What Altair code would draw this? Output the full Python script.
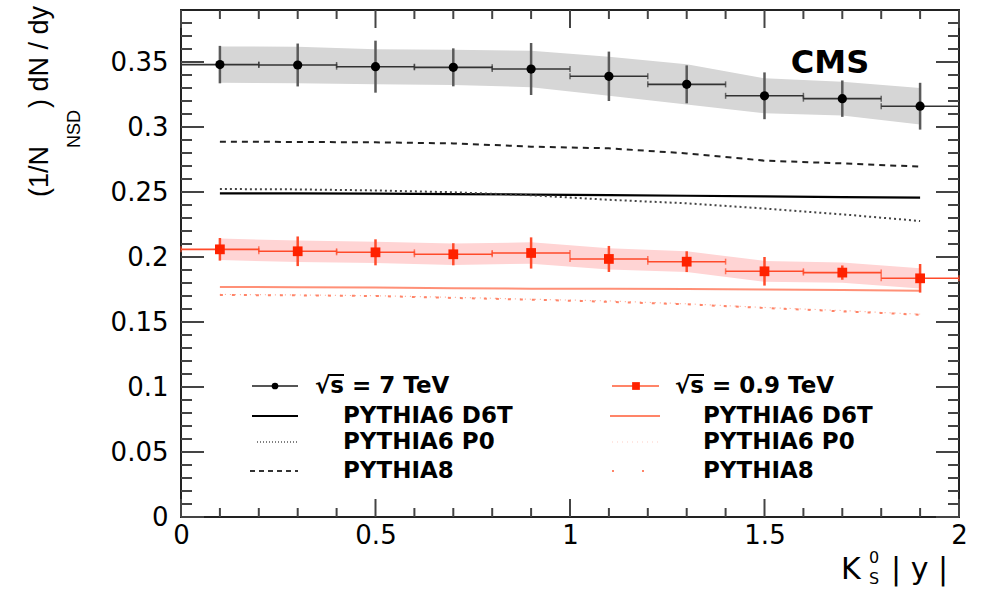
import altair as alt
import pandas as pd

# ---------------- data ----------------
bin_centers = [0.1, 0.3, 0.5, 0.7, 0.9, 1.1, 1.3, 1.5, 1.7, 1.9]
bin_half = 0.1

# sqrt(s) = 7 TeV
y7 = [0.3480, 0.3477, 0.3464, 0.3459, 0.3446, 0.3390, 0.3328, 0.3240, 0.3218, 0.3160]
y7_stat = [0.0144, 0.0165, 0.0200, 0.0146, 0.0200, 0.0190, 0.0146, 0.0180, 0.0140, 0.0180]
y7_sys = [0.0140, 0.0140, 0.0135, 0.0135, 0.0140, 0.0150, 0.0155, 0.0135, 0.0130, 0.0140]

# sqrt(s) = 0.9 TeV
y09 = [0.2059, 0.2044, 0.2036, 0.2021, 0.2031, 0.1985, 0.1964, 0.1890, 0.1880, 0.1836]
y09_stat = [0.0087, 0.0114, 0.0100, 0.0085, 0.0120, 0.0100, 0.0080, 0.0110, 0.0055, 0.0110]
y09_sys = [0.0083, 0.0082, 0.0082, 0.0082, 0.0082, 0.0082, 0.0080, 0.0080, 0.0078, 0.0078]

# model curves, 7 TeV
d6t_7 = [0.2490, 0.2489, 0.2487, 0.2484, 0.2480, 0.2476, 0.2471, 0.2466, 0.2461, 0.2456]
p0_7 = [0.2523, 0.2520, 0.2512, 0.2498, 0.2475, 0.2440, 0.2413, 0.2373, 0.2328, 0.2277]
p8_7 = [0.2887, 0.2885, 0.2882, 0.2874, 0.2849, 0.2836, 0.2797, 0.2741, 0.2720, 0.2695]

# model curves, 0.9 TeV
d6t_09 = [0.1770, 0.1768, 0.1765, 0.1760, 0.1756, 0.1755, 0.1754, 0.1750, 0.1746, 0.1741]
p0_09 = [0.1712, 0.1708, 0.1702, 0.1690, 0.1675, 0.1662, 0.1640, 0.1612, 0.1588, 0.1560]
p8_09 = [0.1708, 0.1705, 0.1700, 0.1685, 0.1672, 0.1655, 0.1636, 0.1608, 0.1582, 0.1556]

x_tick_labels = [0, 0.5, 1, 1.5, 2]
y_tick_labels = [0, 0.05, 0.1, 0.15, 0.2, 0.25, 0.3, 0.35]

legend_left = ["\u221as = 7 TeV", "PYTHIA6 D6T", "PYTHIA6 P0", "PYTHIA8"]
legend_right = ["\u221as = 0.9 TeV", "PYTHIA6 D6T", "PYTHIA6 P0", "PYTHIA8"]

# ---------------- layout / style ----------------
W, H = 778, 507
BLACK = "#000000"
RED_PT = "#ff2200"
RED_BAR = "#ff4a2a"
RED_LINE = "#ff8468"
GREY_BAND = "#d6d6d6"
RED_BAND = "#ffd4d4"

xs = alt.Scale(domain=[0, 2], nice=False, zero=False)
ys = alt.Scale(domain=[0, 0.39], nice=False, zero=True)

x_axis = alt.Axis(values=x_tick_labels, format="~g", ticks=False, domain=False, grid=False,
                  labelFont="DejaVu Sans", labelFontSize=26, labelColor="black",
                  labelPadding=5, labelFlush=False, labelOverlap=False, title=None)
y_axis = alt.Axis(values=y_tick_labels, format="~g", ticks=False, domain=False, grid=False,
                  labelFont="DejaVu Sans", labelFontSize=26, labelColor="black",
                  labelPadding=13, labelFlush=False, labelOverlap=False, title=None)


def X(f):
    return alt.X(f, type="quantitative", scale=xs, axis=x_axis, title=None)


def Y(f):
    return alt.Y(f, type="quantitative", scale=ys, axis=y_axis, title=None)


def make_df(y, stat, sys):
    return pd.DataFrame({
        "x": bin_centers,
        "y": y,
        "xlo": [c - bin_half for c in bin_centers],
        "xhi": [c + bin_half for c in bin_centers],
        "slo": [a - b for a, b in zip(y, stat)],
        "shi": [a + b for a, b in zip(y, stat)],
        "ylo": [a - b for a, b in zip(y, sys)],
        "yhi": [a + b for a, b in zip(y, sys)],
    })


df7 = make_df(y7, y7_stat, y7_sys)
df09 = make_df(y09, y09_stat, y09_sys)

layers = []

# systematic bands
layers.append(alt.Chart(df7).mark_area(color=GREY_BAND, opacity=1).encode(x=X("x"), y=Y("ylo"), y2="yhi"))
layers.append(alt.Chart(df09).mark_area(color=RED_BAND, opacity=1).encode(x=X("x"), y=Y("ylo"), y2="yhi"))


def model(vals, color, width, dash=None, opacity=1.0):
    kw = dict(color=color, strokeWidth=width, opacity=opacity)
    if dash:
        kw["strokeDash"] = dash
    return alt.Chart(pd.DataFrame({"x": bin_centers, "y": vals})).mark_line(**kw).encode(x=X("x"), y=Y("y"))


layers.append(model(p8_7, "#222222", 2, [6, 5]))
layers.append(model(d6t_7, "#000000", 2.2))
layers.append(model(p0_7, "#444444", 2, [2, 3]))
layers.append(model(d6t_09, RED_LINE, 2, None, 0.9))
layers.append(model(p0_09, RED_LINE, 1.2, [1, 4], 0.7))
layers.append(model(p8_09, RED_LINE, 2, [3, 9]))


def data_points(df, bar_col, hbar_col, pt_layer):
    out = []
    out.append(alt.Chart(df).mark_rule(color=bar_col, strokeWidth=2.5).encode(x=X("x"), y=Y("slo"), y2="shi"))
    out.append(alt.Chart(df).mark_rule(color=hbar_col, strokeWidth=1.6).encode(x=X("xlo"), x2="xhi", y=Y("y")))
    out.append(alt.Chart(df).mark_tick(orient="vertical", size=6, thickness=1.5, color=hbar_col).encode(x=X("xlo"), y=Y("y")))
    out.append(alt.Chart(df).mark_tick(orient="vertical", size=6, thickness=1.5, color=hbar_col).encode(x=X("xhi"), y=Y("y")))
    out.append(pt_layer(df))
    return out


layers += data_points(df7, "#5a5a5a", "#333333",
                      lambda d: alt.Chart(d).mark_circle(size=85, color=BLACK, opacity=1).encode(x=X("x"), y=Y("y")))
layers += data_points(df09, RED_BAR, RED_BAR,
                      lambda d: alt.Chart(d).mark_square(size=95, color=RED_PT, opacity=1).encode(x=X("x"), y=Y("y")))

# ---------------- inward ROOT-style ticks ----------------
y_major = y_tick_labels
y_minor = [round(0.01 * i, 2) for i in range(1, 39) if i % 5 != 0]
x_major = x_tick_labels
x_minor = [round(0.1 * i, 1) for i in range(1, 20) if i % 5 != 0]
TICK_C = "#444444"

for vals, ln in ((y_major, 23), (y_minor, 11)):
    d = pd.DataFrame({"v": vals})
    layers.append(alt.Chart(d).mark_rule(color=TICK_C, strokeWidth=2).encode(y=Y("v"), x=alt.value(0), x2=alt.value(ln)))
    layers.append(alt.Chart(d).mark_rule(color=TICK_C, strokeWidth=2).encode(y=Y("v"), x=alt.value(W), x2=alt.value(W - ln)))
for vals, ln in ((x_major, 18), (x_minor, 9)):
    d = pd.DataFrame({"v": vals})
    layers.append(alt.Chart(d).mark_rule(color=TICK_C, strokeWidth=2).encode(x=X("v"), y=alt.value(H), y2=alt.value(H - ln)))
    layers.append(alt.Chart(d).mark_rule(color=TICK_C, strokeWidth=2).encode(x=X("v"), y=alt.value(0), y2=alt.value(ln)))

# ---------------- text helpers ----------------
one = pd.DataFrame({"k": [0]})


def txt(s, x, y, size, weight="normal", angle=0, align="left", baseline="middle", font="DejaVu Sans", color="black"):
    return alt.Chart(one).mark_text(text=s, fontSize=size, fontWeight=weight, angle=angle, align=align,
                                    baseline=baseline, font=font, color=color).encode(x=alt.value(x), y=alt.value(y))


def hline(x1, x2, y, color, width, dash=None, opacity=1.0):
    kw = dict(color=color, strokeWidth=width, opacity=opacity)
    if dash:
        kw["strokeDash"] = dash
    return alt.Chart(one).mark_rule(**kw).encode(x=alt.value(x1), x2=alt.value(x2), y=alt.value(y))


# CMS label
layers.append(txt("CMS", 649, 63, 32, weight="bold", align="center", baseline="alphabetic"))

# legend
rows = [376, 406, 432, 461]
LG = 23
# left column (7 TeV)
layers.append(hline(71, 117, rows[0], "#555555", 2))
layers.append(alt.Chart(one).mark_circle(size=45, color=BLACK, opacity=1).encode(x=alt.value(94), y=alt.value(rows[0])))
layers.append(hline(71, 117, rows[1], "#000000", 2.2))
layers.append(hline(76, 117, rows[2], "#555555", 1.5, [1, 2]))
layers.append(hline(69, 117, rows[3], "#333333", 2, [5, 4]))
layers.append(txt(legend_left[0], 134, rows[0], LG, weight="bold"))
layers.append(hline(149, 163, rows[0] - 11, "#000000", 2))
for i in range(1, 4):
    layers.append(txt(legend_left[i], 162, rows[i], LG, weight="bold"))
# right column (0.9 TeV)
layers.append(hline(431, 478, rows[0], RED_LINE, 2))
layers.append(alt.Chart(one).mark_square(size=60, color=RED_PT, opacity=1).encode(x=alt.value(455), y=alt.value(rows[0])))
layers.append(hline(429, 479, rows[1], RED_LINE, 2))
layers.append(hline(431, 479, rows[2], RED_LINE, 1, [1, 4], 0.4))
layers.append(hline(431, 479, rows[3], RED_LINE, 2, [2, 28]))
layers.append(txt(legend_right[0], 494, rows[0], LG, weight="bold"))
layers.append(hline(509, 523, rows[0] - 11, "#000000", 2))
for i in range(1, 4):
    layers.append(txt(legend_right[i], 522, rows[i], LG, weight="bold"))

# y-axis title: (1/N_NSD) dN / dy
YT_FONT = "Liberation Sans"
layers.append(txt("(1/N", -133, 187, 27, angle=270, baseline="alphabetic", font=YT_FONT))
layers.append(txt("NSD", -101, 138, 18, angle=270, baseline="alphabetic", font=YT_FONT))
layers.append(txt(") dN / dy", -133, 98, 27, angle=270, baseline="alphabetic", font=YT_FONT))

# x-axis title: K^0_S |y|
layers.append(txt("K", 660, 569, 30, baseline="alphabetic"))
layers.append(txt("0", 688, 553, 16, baseline="alphabetic"))
layers.append(txt("S", 688, 574, 16, baseline="alphabetic"))
layers.append(txt("| y |", 710, 569, 30, baseline="alphabetic"))

chart = alt.layer(*layers).properties(
    width=W, height=H,
    autosize=alt.AutoSizeParams(type="none"),
    padding={"left": 181, "top": 10, "right": 22, "bottom": 73},
).configure(background="white").configure_view(stroke="#222222", strokeWidth=2)

chart.save("out.html", embed_options={"renderer": "svg", "actions": False})
